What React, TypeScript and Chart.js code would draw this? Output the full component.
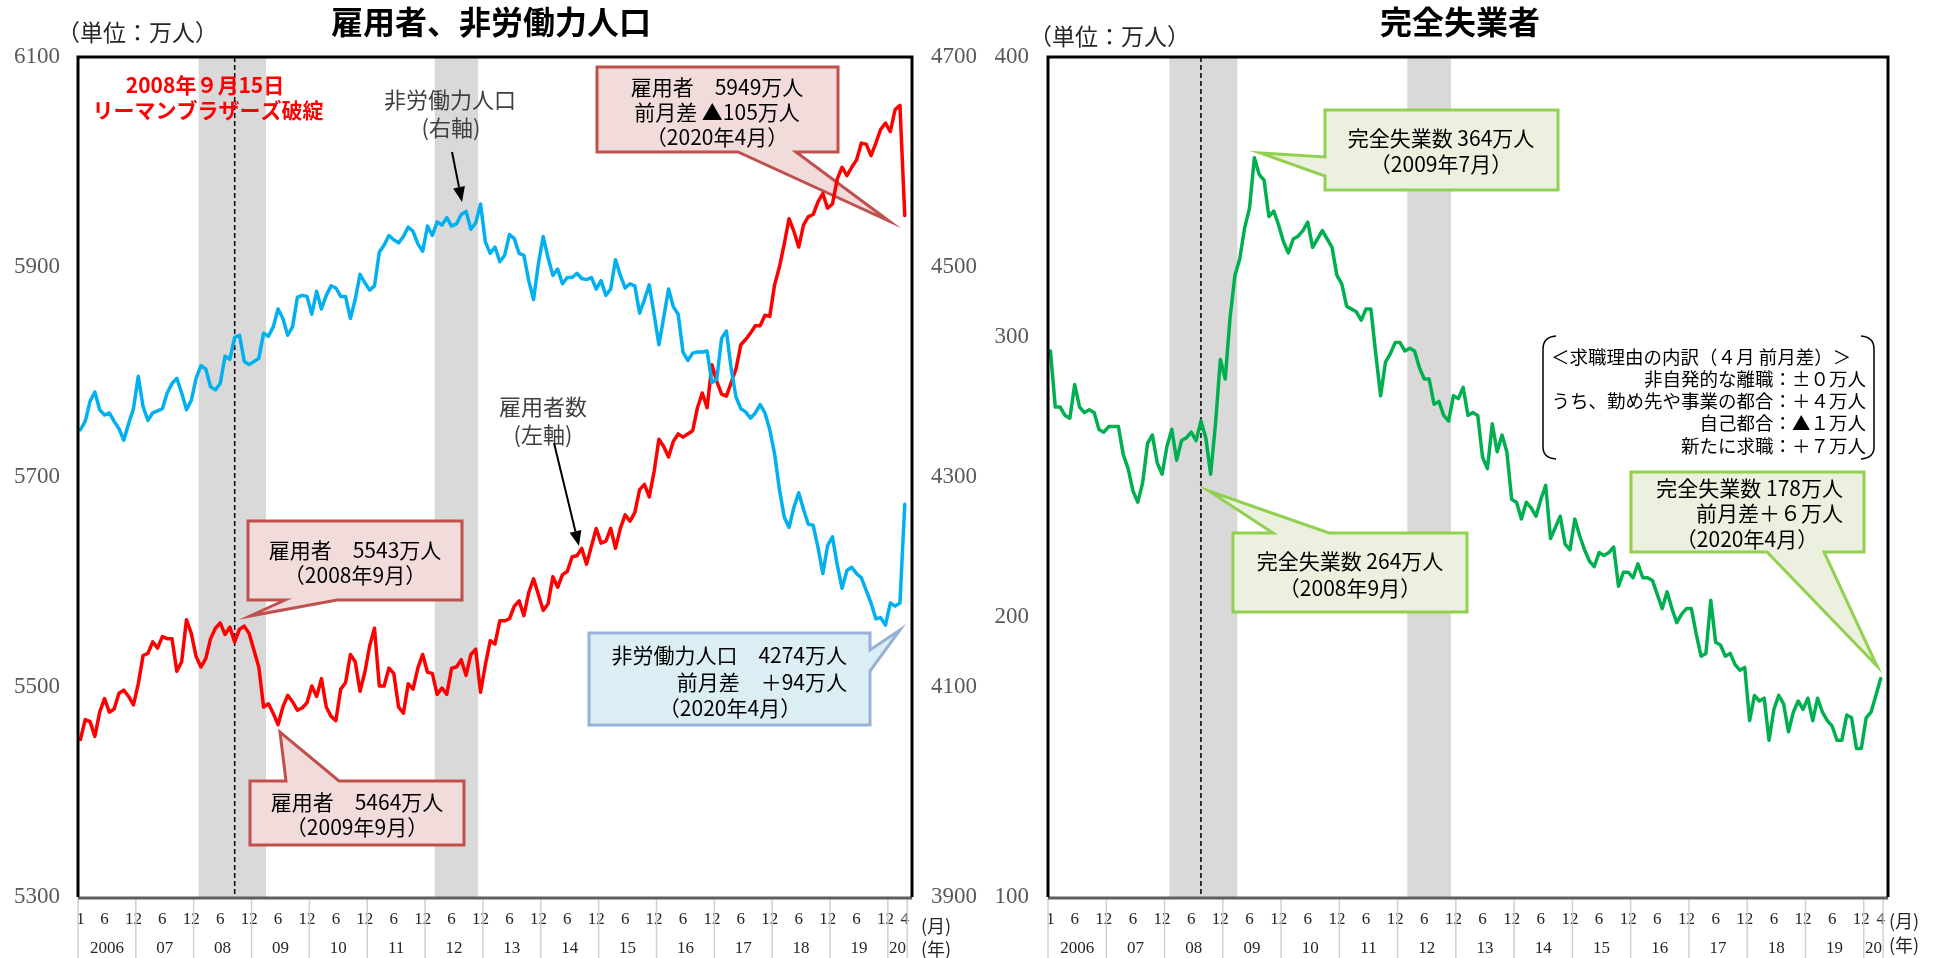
import React, { useEffect, useRef } from 'react';
import { Chart, registerables } from 'chart.js';

Chart.register(...registerables);

const SERIF = "'Liberation Serif', 'DejaVu Serif', serif";
const JP = "'Noto Sans CJK JP', 'Noto Sans', sans-serif";

// Monthly values (万人), Jan 2006 – Apr 2020
const employees: number[] = [
  5450, 5469, 5467, 5453, 5476, 5489, 5476, 5479, 5494, 5497, 5491, 5483,
  5503, 5530, 5532, 5543, 5537, 5548, 5546, 5546, 5515, 5524, 5564, 5551,
  5529, 5519, 5527, 5546, 5556, 5561, 5550, 5557, 5543, 5555, 5558, 5551,
  5535, 5519, 5481, 5484, 5475, 5464, 5481, 5492, 5486, 5478, 5480, 5485,
  5501, 5491, 5508, 5481, 5472, 5468, 5498, 5504, 5531, 5524, 5496, 5514,
  5539, 5556, 5501, 5501, 5518, 5513, 5481, 5475, 5503, 5498, 5518, 5531,
  5514, 5513, 5493, 5499, 5493, 5518, 5519, 5526, 5511, 5531, 5536, 5495,
  5521, 5544, 5541, 5563, 5563, 5565, 5577, 5582, 5568, 5590, 5603, 5588,
  5573, 5579, 5605, 5595, 5607, 5610, 5624, 5625, 5632, 5617, 5634, 5651,
  5637, 5639, 5651, 5632, 5651, 5664, 5658, 5666, 5688, 5693, 5681, 5705,
  5736, 5729, 5719, 5734, 5741, 5738, 5741, 5744, 5766, 5780, 5766, 5807,
  5791, 5779, 5777, 5790, 5803, 5826, 5831, 5837, 5844, 5844, 5854, 5853,
  5883, 5900, 5922, 5946, 5934, 5919, 5940, 5948, 5950, 5962, 5970, 5956,
  5960, 5984, 5995, 5987, 5995, 6002, 6018, 6017, 6006, 6018, 6031, 6037,
  6029, 6050, 6054, 5949,
];

const notInLabourForce: number[] = [
  4345, 4353, 4372, 4381, 4364, 4359, 4361, 4353, 4346, 4335, 4351, 4365,
  4396, 4367, 4354, 4361, 4363, 4365, 4380, 4389, 4394, 4380, 4364, 4373,
  4394, 4406, 4403, 4386, 4383, 4389, 4415, 4412, 4433, 4435, 4410, 4407,
  4410, 4413, 4437, 4434, 4443, 4460, 4451, 4435, 4443, 4471, 4473, 4472,
  4455, 4477, 4460, 4473, 4482, 4480, 4472, 4472, 4451, 4469, 4493, 4485,
  4478, 4482, 4514, 4521, 4530, 4526, 4523, 4529, 4538, 4534, 4522, 4515,
  4539, 4530, 4543, 4540, 4547, 4539, 4541, 4550, 4553, 4536, 4542, 4560,
  4524, 4513, 4519, 4505, 4511, 4531, 4527, 4513, 4511, 4487, 4469, 4503,
  4529, 4509, 4492, 4498, 4484, 4490, 4490, 4494, 4489, 4488, 4490, 4479,
  4487, 4473, 4479, 4507, 4492, 4480, 4484, 4482, 4456, 4469, 4483, 4455,
  4426, 4452, 4479, 4462, 4455, 4419, 4411, 4418, 4419, 4419, 4420, 4390,
  4393, 4432, 4439, 4403, 4376, 4365, 4362, 4356, 4361, 4369, 4361, 4345,
  4322, 4288, 4262, 4252, 4271, 4285, 4269, 4255, 4254, 4233, 4208, 4235,
  4243, 4216, 4194, 4211, 4214, 4208, 4204, 4192, 4180, 4165, 4166, 4159,
  4180, 4177, 4180, 4274,
];

const unemployed: number[] = [
  295, 275, 275, 272, 271, 283, 275, 273, 274, 273, 267, 266,
  268, 268, 268, 258, 253, 245, 241, 248, 262, 265, 255, 251,
  261, 267, 256, 263, 264, 266, 263, 270, 264, 251, 269, 292,
  285, 307, 322, 328, 339, 346, 364, 358, 356, 343, 345, 340,
  334, 330, 335, 336, 338, 341, 332, 335, 338, 335, 332, 322,
  319, 311, 310, 309, 306, 310, 310, 294, 279, 291, 294, 298,
  298, 295, 296, 295, 289, 285, 285, 276, 277, 272, 270, 279,
  278, 282, 272, 273, 272, 257, 253, 269, 259, 265, 259, 242,
  241, 235, 241, 239, 236, 242, 247, 228, 232, 236, 226, 224,
  235, 229, 224, 220, 218, 223, 222, 223, 225, 211, 216, 216,
  214, 219, 214, 214, 213, 208, 203, 209, 203, 198, 201, 203,
  203, 194, 186, 187, 206, 191, 190, 186, 187, 183, 181, 182,
  163, 172, 170, 171, 156, 167, 172, 169, 159, 166, 170, 167,
  171, 163, 171, 166, 163, 161, 156, 156, 165, 164, 153, 153,
  164, 166, 172, 178,
];

const yearLabels = ['2006', '07', '08', '09', '10', '11', '12', '13', '14', '15', '16', '17', '18', '19', '20'];
const firstYearMonthTicks = [1, 6, 12];
const midYearMonthTicks = [6, 12];
const lastMonth = 4;

// Recession shading, inclusive month indexes (Feb 2008–Mar 2009, Mar 2012–Nov 2012)
const recessions: [number, number][] = [[25, 38], [74, 82]];

const leftAxis = { min: 5300, max: 6100, step: 200 };
const rightAxis = { min: 3900, max: 4700, step: 200 };
const unemployedAxis = { min: 100, max: 400, step: 100 };

// one empty category slot follows the last month
const slotCount = employees.length + 1;

type XTick = { value: number; label: string | string[] };
const xTicks: XTick[] = [];
yearLabels.forEach((yr, k) => {
  const start = k * 12;
  const last = k === yearLabels.length - 1;
  const n = last ? lastMonth : 12;
  const months = k === 0 ? firstYearMonthTicks : last ? [lastMonth] : midYearMonthTicks;
  months.forEach((m) => xTicks.push({ value: start + m - 1, label: String(m) }));
  xTicks.push({ value: start + (n - 1) / 2, label: ['', yr] });
});
const xLabelMap = new Map<number, string | string[]>(xTicks.map((t) => [t.value, t.label]));
const yearBounds = yearLabels.map((_, k) => k * 12 - 0.5).concat([employees.length - 0.5]);

const asPoints = (arr: number[]) => arr.map((v, i) => ({ x: i, y: v }));

function xScale() {
  return {
    type: 'linear',
    min: -0.5,
    max: slotCount - 0.5,
    afterBuildTicks: (s: any) => {
      s.ticks = xTicks.map((t) => ({ value: t.value }));
    },
    afterFit: (s: any) => {
      s.height = 61;
    },
    grid: { display: false, drawTicks: false },
    border: { display: false },
    ticks: {
      autoSkip: false,
      maxRotation: 0,
      minRotation: 0,
      padding: 8.5,
      color: '#262626',
      font: { family: SERIF, size: 17, lineHeight: 29 / 17 },
      callback: (v: number) => xLabelMap.get(v) ?? '',
    },
  };
}

function yScale(position: string, ax: { min: number; max: number; step: number }, width: number, pad: number) {
  return {
    position,
    min: ax.min,
    max: ax.max,
    afterFit: (s: any) => {
      s.width = width;
    },
    grid: { display: false, drawTicks: false },
    border: { display: false },
    ticks: {
      stepSize: ax.step,
      padding: pad,
      color: '#595959',
      font: { family: SERIF, size: 23 },
      callback: (v: number) => String(v),
    },
  };
}

type Line = { t: string; x: number; y: number; align?: CanvasTextAlign };
type Callout = {
  x: number; y: number; w: number; h: number;
  side: 'top' | 'bottom' | 'left' | 'right';
  a: number; b: number; tip: [number, number];
  fill: string; stroke: string; lines: Line[];
};

const RED_BOX = { fill: '#F2DCDB', stroke: '#C0504D' };
const BLUE_BOX = { fill: '#DBEEF4', stroke: '#95B3D7' };
const GREEN_BOX = { fill: '#EBF1DE', stroke: '#92D050' };

function drawCallout(ctx: CanvasRenderingContext2D, c: Callout) {
  const r = c.x + c.w;
  const btm = c.y + c.h;
  ctx.beginPath();
  ctx.moveTo(c.x, c.y);
  if (c.side === 'top') { ctx.lineTo(c.a, c.y); ctx.lineTo(c.tip[0], c.tip[1]); ctx.lineTo(c.b, c.y); }
  ctx.lineTo(r, c.y);
  if (c.side === 'right') { ctx.lineTo(r, c.a); ctx.lineTo(c.tip[0], c.tip[1]); ctx.lineTo(r, c.b); }
  ctx.lineTo(r, btm);
  if (c.side === 'bottom') { ctx.lineTo(c.b, btm); ctx.lineTo(c.tip[0], c.tip[1]); ctx.lineTo(c.a, btm); }
  ctx.lineTo(c.x, btm);
  if (c.side === 'left') { ctx.lineTo(c.x, c.b); ctx.lineTo(c.tip[0], c.tip[1]); ctx.lineTo(c.x, c.a); }
  ctx.closePath();
  ctx.fillStyle = c.fill;
  ctx.fill();
  ctx.lineWidth = 3;
  ctx.lineJoin = 'miter';
  ctx.strokeStyle = c.stroke;
  ctx.stroke();
  c.lines.forEach((l) => text(ctx, l.t, l.x, l.y, `21px ${JP}`, '#000', l.align || 'center'));
}

function text(ctx: CanvasRenderingContext2D, s: string, x: number, y: number, font: string, color: string, align: CanvasTextAlign = 'center') {
  ctx.font = font;
  ctx.fillStyle = color;
  ctx.textAlign = align;
  ctx.textBaseline = 'middle';
  ctx.fillText(s, x, y);
}

function arrow(ctx: CanvasRenderingContext2D, x0: number, y0: number, x1: number, y1: number) {
  const ang = Math.atan2(y1 - y0, x1 - x0);
  const L = 15;
  const W = 6;
  const bx = x1 - L * Math.cos(ang);
  const by = y1 - L * Math.sin(ang);
  ctx.strokeStyle = '#000';
  ctx.fillStyle = '#000';
  ctx.lineWidth = 2;
  ctx.beginPath();
  ctx.moveTo(x0, y0);
  ctx.lineTo(bx, by);
  ctx.stroke();
  ctx.beginPath();
  ctx.moveTo(x1, y1);
  ctx.lineTo(bx - W * Math.sin(ang), by + W * Math.cos(ang));
  ctx.lineTo(bx + W * Math.sin(ang), by - W * Math.cos(ang));
  ctx.closePath();
  ctx.fill();
}

function makeDecor(id: string, offset: number, shockIndex: number, callouts: Callout[], notes: (ctx: CanvasRenderingContext2D) => void) {
  return {
    id,
    beforeDatasetsDraw(chart: any) {
      const { ctx, chartArea: a } = chart;
      const x = chart.scales.x;
      ctx.save();
      ctx.fillStyle = '#D9D9D9';
      recessions.forEach(([s, e]) => {
        const x0 = x.getPixelForValue(s - 0.5);
        const x1 = x.getPixelForValue(e + 0.5);
        ctx.fillRect(x0, a.top, x1 - x0, a.bottom - a.top);
      });
      const sx = x.getPixelForValue(shockIndex);
      ctx.strokeStyle = '#000';
      ctx.lineWidth = 1.5;
      ctx.setLineDash([5, 3]);
      ctx.beginPath();
      ctx.moveTo(sx, a.top);
      ctx.lineTo(sx, a.bottom);
      ctx.stroke();
      ctx.setLineDash([]);
      ctx.translate(-offset, 0);
      callouts.forEach((c) => drawCallout(ctx, c));
      ctx.restore();
    },
    afterDatasetsDraw(chart: any) {
      const { ctx, chartArea: a } = chart;
      const x = chart.scales.x;
      ctx.save();
      // year separators under the axis
      ctx.strokeStyle = '#D0D0D0';
      ctx.lineWidth = 1.5;
      yearBounds.forEach((b) => {
        const px = x.getPixelForValue(b);
        ctx.beginPath();
        ctx.moveTo(px, a.bottom + 2);
        ctx.lineTo(px, chart.height);
        ctx.stroke();
      });
      // axis line
      ctx.strokeStyle = '#5f5f5f';
      ctx.lineWidth = 3;
      ctx.beginPath();
      ctx.moveTo(a.left, a.bottom + 1);
      ctx.lineTo(a.right, a.bottom + 1);
      ctx.stroke();
      // frame
      ctx.strokeStyle = '#000';
      ctx.lineJoin = 'miter';
      ctx.beginPath();
      ctx.moveTo(a.left, a.bottom);
      ctx.lineTo(a.left, a.top);
      ctx.lineTo(a.right, a.top);
      ctx.lineTo(a.right, a.bottom);
      ctx.stroke();
      ctx.translate(-offset, 0);
      notes(ctx);
      ctx.restore();
    },
  };
}

const leftCallouts: Callout[] = [
  {
    x: 597, y: 67, w: 241, h: 85, side: 'bottom', a: 738, b: 796, tip: [889, 221], ...RED_BOX,
    lines: [
      { t: '雇用者　5949万人', x: 717, y: 87 },
      { t: '前月差 ▲105万人', x: 717, y: 112 },
      { t: '（2020年4月）', x: 717, y: 137 },
    ],
  },
  {
    x: 248, y: 521, w: 214, h: 79, side: 'bottom', a: 285, b: 337, tip: [250, 616], ...RED_BOX,
    lines: [
      { t: '雇用者　5543万人', x: 355, y: 550 },
      { t: '（2008年9月）', x: 355, y: 575 },
    ],
  },
  {
    x: 250, y: 781, w: 214, h: 64, side: 'top', a: 286, b: 339, tip: [280, 732], ...RED_BOX,
    lines: [
      { t: '雇用者　5464万人', x: 357, y: 802 },
      { t: '（2009年9月）', x: 357, y: 827 },
    ],
  },
  {
    x: 589, y: 633, w: 281, h: 92, side: 'right', a: 650, b: 671, tip: [900, 630], ...BLUE_BOX,
    lines: [
      { t: '非労働力人口　4274万人', x: 847, y: 655, align: 'right' },
      { t: '前月差　＋94万人', x: 847, y: 682, align: 'right' },
      { t: '（2020年4月）', x: 730, y: 708 },
    ],
  },
];

const rightCallouts: Callout[] = [
  {
    x: 1325, y: 110, w: 233, h: 80, side: 'left', a: 157, b: 176, tip: [1260, 153], ...GREEN_BOX,
    lines: [
      { t: '完全失業数 364万人', x: 1441, y: 138 },
      { t: '（2009年7月）', x: 1441, y: 164 },
    ],
  },
  {
    x: 1233, y: 533, w: 234, h: 79, side: 'top', a: 1273, b: 1329, tip: [1209, 491], ...GREEN_BOX,
    lines: [
      { t: '完全失業数 264万人', x: 1350, y: 561 },
      { t: '（2008年9月）', x: 1350, y: 588 },
    ],
  },
  {
    x: 1631, y: 472, w: 233, h: 80, side: 'bottom', a: 1767, b: 1824, tip: [1877, 666], ...GREEN_BOX,
    lines: [
      { t: '完全失業数 178万人', x: 1843, y: 488, align: 'right' },
      { t: '前月差＋６万人', x: 1843, y: 513, align: 'right' },
      { t: '（2020年4月）', x: 1747, y: 539 },
    ],
  },
];

function leftNotes(ctx: CanvasRenderingContext2D) {
  text(ctx, '雇用者、非労働力人口', 491, 22, `bold 32px ${JP}`, '#000');
  text(ctx, '（単位：万人）', 57, 32, `23px ${JP}`, '#262626', 'left');
  text(ctx, '2008年９月15日', 205, 85, `bold 21px ${JP}`, '#FF0000');
  text(ctx, 'リーマンブラザーズ破綻', 208, 110, `bold 21px ${JP}`, '#FF0000');
  text(ctx, '非労働力人口', 450, 100, `22px ${JP}`, '#404040');
  text(ctx, '(右軸)', 451, 128, `22px ${JP}`, '#404040');
  text(ctx, '雇用者数', 543, 407, `22px ${JP}`, '#404040');
  text(ctx, '(左軸)', 543, 435, `22px ${JP}`, '#404040');
  arrow(ctx, 452, 152, 462, 202);
  arrow(ctx, 554, 443, 579, 546);
  text(ctx, '(月)', 921, 926, `18px ${JP}`, '#262626', 'left');
  text(ctx, '(年)', 921, 949, `18px ${JP}`, '#262626', 'left');
}

function rightNotes(ctx: CanvasRenderingContext2D) {
  text(ctx, '完全失業者', 1460, 22, `bold 32px ${JP}`, '#000');
  text(ctx, '（単位：万人）', 1029, 36, `23px ${JP}`, '#262626', 'left');
  text(ctx, '(月)', 1889, 921, `18px ${JP}`, '#262626', 'left');
  text(ctx, '(年)', 1889, 945, `18px ${JP}`, '#262626', 'left');
  // breakdown of reasons for job search
  ctx.strokeStyle = '#000';
  ctx.lineWidth = 1.5;
  ctx.beginPath();
  ctx.moveTo(1556, 336);
  ctx.quadraticCurveTo(1543, 337, 1543, 349);
  ctx.lineTo(1543, 447);
  ctx.quadraticCurveTo(1543, 458, 1556, 459);
  ctx.moveTo(1861, 336);
  ctx.quadraticCurveTo(1874, 337, 1874, 349);
  ctx.lineTo(1874, 447);
  ctx.quadraticCurveTo(1874, 458, 1861, 459);
  ctx.stroke();
  const f = `18.5px ${JP}`;
  text(ctx, '＜求職理由の内訳（４月 前月差）＞', 1551, 357, f, '#000', 'left');
  text(ctx, '非自発的な離職：±０万人', 1866, 379, f, '#000', 'right');
  text(ctx, 'うち、勤め先や事業の都合：＋４万人', 1866, 401, f, '#000', 'right');
  text(ctx, '自己都合：▲１万人', 1866, 423, f, '#000', 'right');
  text(ctx, '新たに求職：＋７万人', 1866, 446, f, '#000', 'right');
}

const lineStyle = {
  pointRadius: 0,
  borderWidth: 3.5,
  tension: 0,
  borderJoinStyle: 'round',
  borderCapStyle: 'round',
  fill: false,
};

function buildLeft(canvas: HTMLCanvasElement) {
  return new Chart(canvas, {
    type: 'line',
    data: {
      datasets: [
        { label: '非労働力人口', data: asPoints(notInLabourForce), yAxisID: 'y1', borderColor: '#00B0F0', ...lineStyle } as any,
        { label: '雇用者', data: asPoints(employees), yAxisID: 'y', borderColor: '#FF0000', ...lineStyle } as any,
      ],
    },
    options: {
      animation: false,
      responsive: false,
      events: [],
      layout: { padding: { top: 57, right: 0, left: 0, bottom: 0 } },
      plugins: { legend: { display: false }, tooltip: { enabled: false } },
      scales: {
        x: xScale(),
        y: yScale('left', leftAxis, 78, 18),
        y1: yScale('right', rightAxis, 78, 19),
      } as any,
    },
    plugins: [makeDecor('leftDecor', 0, 32, leftCallouts, leftNotes)],
  });
}

const RIGHT_OFFSET = 990;

function buildRight(canvas: HTMLCanvasElement) {
  return new Chart(canvas, {
    type: 'line',
    data: {
      datasets: [
        { label: '完全失業者', data: asPoints(unemployed), yAxisID: 'y', borderColor: '#00B050', ...lineStyle } as any,
      ],
    },
    options: {
      animation: false,
      responsive: false,
      events: [],
      layout: { padding: { top: 57, right: 51, left: 0, bottom: 0 } },
      plugins: { legend: { display: false }, tooltip: { enabled: false } },
      scales: {
        x: xScale(),
        y: yScale('left', unemployedAxis, 58, 19),
      } as any,
    },
    plugins: [makeDecor('rightDecor', RIGHT_OFFSET, 31, rightCallouts, rightNotes)],
  });
}

function ChartCanvas({ left, width, build }: { left: number; width: number; build: (c: HTMLCanvasElement) => Chart }) {
  const ref = useRef<HTMLCanvasElement>(null);
  useEffect(() => {
    const chart = build(ref.current as HTMLCanvasElement);
    return () => chart.destroy();
  }, [build]);
  return (
    <canvas
      ref={ref}
      width={width}
      height={958}
      style={{ position: 'absolute', left, top: 0, width, height: 958 }}
    />
  );
}

export default function App() {
  return (
    <div style={{ position: 'absolute', left: 0, top: 0, width: 1939, height: 958, background: '#fff', overflow: 'hidden' }}>
      <ChartCanvas left={0} width={RIGHT_OFFSET} build={buildLeft} />
      <ChartCanvas left={RIGHT_OFFSET} width={1939 - RIGHT_OFFSET} build={buildRight} />
    </div>
  );
}
